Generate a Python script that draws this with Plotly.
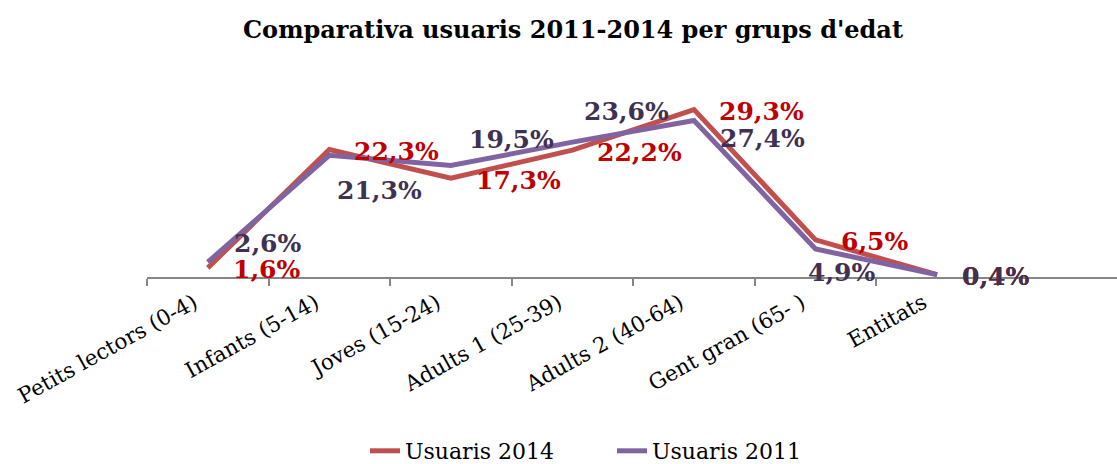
import plotly.graph_objects as go

categories = ["Petits lectors (0-4)", "Infants (5-14)", "Joves (15-24)", "Adults 1 (25-39)",
              "Adults 2 (40-64)", "Gent gran (65- )", "Entitats"]
usuaris_2014 = [1.6, 22.3, 17.3, 22.2, 29.3, 6.5, 0.4]
usuaris_2011 = [2.6, 21.3, 19.5, 23.6, 27.4, 4.9, 0.4]
labels_2014 = ["1,6%", "22,3%", "17,3%", "22,2%", "29,3%", "6,5%", "0,4%"]
labels_2011 = ["2,6%", "21,3%", "19,5%", "23,6%", "27,4%", "4,9%", "0,4%"]

# label offsets in pixels (x right, y up) as placed in the original chart
shift_2014 = [(23, -2)] * 7
shift_2011 = [(24, 19), (6, -35), (16, 26), (10, 31), (24, -18), (-10, -23), (23, -2)]

SERIF = "DejaVu Serif"
xs = list(range(len(categories)))

fig = go.Figure()
fig.add_trace(go.Scatter(x=xs, y=usuaris_2014, mode="lines", name="Usuaris 2014",
                         line=dict(color="#C0504D", width=5)))
fig.add_trace(go.Scatter(x=xs, y=usuaris_2011, mode="lines", name="Usuaris 2011",
                         line=dict(color="#8064A2", width=5)))

annotations = []
for vals, labs, shifts, color in [(usuaris_2014, labels_2014, shift_2014, "#C00000"),
                                  (usuaris_2011, labels_2011, shift_2011, "#3F3151")]:
    for x, v, t, (dx, dy) in zip(xs, vals, labs, shifts):
        annotations.append(dict(x=x, y=v, text=t, showarrow=False, xanchor="left",
                                yanchor="middle", xshift=dx, yshift=dy,
                                font=dict(family=SERIF, size=25, color=color, weight="bold")))

fig.update_layout(
    width=1117, height=464,
    margin=dict(l=147, r=0, t=77, b=187, autoexpand=False),
    paper_bgcolor="white", plot_bgcolor="white",
    title=dict(text="Comparativa usuaris 2011-2014 per grups d'edat",
               x=0.513, xanchor="center", y=1 - 30 / 464, yanchor="middle",
               font=dict(family=SERIF, size=24, color="black", weight="bold")),
    xaxis=dict(range=[-0.5, 7.48], tickvals=xs, ticktext=categories, tickangle=-29,
               automargin=False,
               ticks="outside", ticklen=3, tickcolor="rgba(0,0,0,0)", ticklabelshift=-14,
               minor=dict(tickvals=[i - 0.5 for i in range(len(categories) + 2)],
                          ticks="outside", ticklen=7, tickcolor="#868686", tickwidth=1.5),
               showline=True, linecolor="#868686", linewidth=2, showgrid=False, zeroline=False,
               tickfont=dict(family=SERIF, size=21.5, color="black")),
    yaxis=dict(range=[0, 35], visible=False),
    showlegend=True,
    legend=dict(orientation="h", x=(365 - 147) / 970, xanchor="left",
                y=(277 - 451) / 200, yanchor="middle",
                entrywidth=202, entrywidthmode="pixels",
                font=dict(family=SERIF, size=22, color="black")),
    annotations=annotations,
)

# the page body has a default 8px margin; drop it so the figure sits at the corner
fig.write_html("out.html", config={"displayModeBar": False},
               post_script="document.body.style.margin = '0px';")
